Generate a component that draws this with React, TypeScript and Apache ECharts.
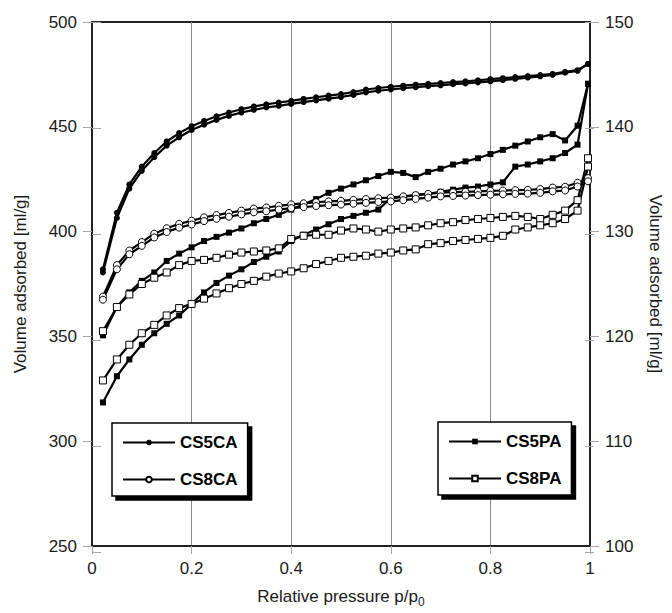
import React, { useEffect, useRef } from "react";
import * as echarts from "echarts";

// Relative pressure p/p0 of each measured point
const P = [0.022, 0.05, 0.075, 0.1, 0.125, 0.15, 0.175, 0.2, 0.225, 0.25, 0.275, 0.3, 0.325, 0.35, 0.375, 0.4, 0.425, 0.45, 0.475, 0.5, 0.525, 0.55, 0.575, 0.6, 0.625, 0.65, 0.675, 0.7, 0.725, 0.75, 0.775, 0.8, 0.825, 0.85, 0.875, 0.9, 0.925, 0.95, 0.975, 0.996];

// Left axis [ml/g]
const CS5CA_A = [382, 409, 422.5, 431, 437.5, 443, 447, 450.3, 452.8, 455, 456.8, 458.4, 459.7, 460.7, 461.6, 462.4, 463.3, 464.1, 464.9, 465.6, 466.6, 467.8, 468.5, 469.1, 469.6, 470.1, 470.5, 470.9, 471.3, 471.7, 472.2, 472.7, 473.2, 473.7, 474.2, 474.7, 475.3, 476.2, 477, 480];
const CS5CA_B = [380.5, 406.5, 420.5, 429, 435.5, 441, 445, 448.5, 451, 453.3, 455.2, 456.8, 458.1, 459.2, 460, 460.9, 461.8, 462.6, 463.4, 464.2, 465.2, 466.4, 467.2, 467.8, 468.4, 468.9, 469.4, 469.8, 470.3, 470.7, 471.2, 471.7, 472.3, 472.9, 473.5, 474.1, 474.8, 475.8, 476.7, 480];
const CS8CA_A = [369, 384, 391, 395, 399, 401.6, 403.7, 405.2, 406.8, 407.9, 408.9, 410, 411, 411.5, 412.3, 413, 413.5, 414, 414.4, 414.7, 415.1, 415.5, 415.9, 416.2, 416.8, 417.4, 418, 418.6, 418.8, 419, 419.2, 419.4, 419.6, 419.8, 419.9, 420.3, 421, 421.4, 423.3, 425.5];
const CS8CA_B = [367.5, 382, 389.2, 393.2, 397.2, 399.8, 401.9, 403.4, 405, 406.1, 407.1, 408.2, 409.2, 409.7, 410.5, 411.2, 411.7, 412.2, 412.6, 412.9, 413.3, 413.7, 414.1, 414.4, 415, 415.6, 416.2, 416.8, 417, 417.2, 417.4, 417.6, 417.8, 418, 418.1, 418.5, 419.2, 419.6, 421.5, 424];

// Right axis [ml/g]
const CS5PA_A = [120.1, 122.8, 124.2, 125.3, 126.1, 127.2, 127.9, 128.5, 129.1, 129.5, 129.9, 130.3, 130.8, 131.2, 131.6, 132.1, 132.6, 133.1, 133.7, 134.1, 134.5, 134.9, 135.3, 135.7, 135.6, 135.2, 135.7, 136.0, 136.4, 136.7, 137.0, 137.4, 137.8, 138.2, 138.6, 139.0, 139.3, 138.7, 140.1, 144.1];
const CS5PA_B = [113.7, 116.2, 117.8, 119.2, 120.3, 121.2, 122.0, 123.1, 124.2, 125.1, 125.8, 126.4, 127.1, 127.6, 128.1, 129.1, 129.7, 130.2, 130.7, 131.2, 131.5, 131.8, 132.1, 133.2, 133.3, 133.5, 133.6, 133.8, 134.0, 134.2, 134.3, 134.5, 134.7, 136.2, 136.4, 136.7, 137.0, 137.5, 138.3, 144.1];
const CS8PA_A = [120.5, 122.8, 124.0, 125.0, 125.6, 126.1, 126.8, 127.2, 127.3, 127.5, 127.8, 128.0, 128.1, 128.2, 128.4, 129.3, 129.6, 129.7, 129.7, 130.1, 130.3, 130.2, 130.0, 130.2, 130.3, 130.4, 130.6, 130.8, 130.9, 131.1, 131.2, 131.3, 131.4, 131.5, 131.4, 131.2, 131.6, 132.0, 133.0, 137.0];
const CS8PA_B = [115.8, 117.8, 119.2, 120.3, 121.1, 122.0, 122.7, 123.1, 123.6, 124.1, 124.6, 125.0, 125.3, 125.7, 126.0, 126.2, 126.5, 126.9, 127.2, 127.5, 127.6, 127.7, 127.9, 128.0, 128.2, 128.3, 128.8, 128.9, 129.1, 129.2, 129.3, 129.4, 129.6, 130.2, 130.4, 130.6, 130.8, 131.2, 132.0, 136.2];

const X_TICKS = { min: 0, max: 1, interval: 0.2 };
const LEFT_TICKS = { min: 250, max: 500, interval: 50 };
const RIGHT_TICKS = { min: 100, max: 150, interval: 10 };

const FONT = "'Liberation Sans', Arial, Helvetica, sans-serif";
const TICK_GRAY = "#a8a8a8";

const pairs = (ys: number[]) => ys.map((y, i) => [P[i], y]);

type Kind = "filledCircle" | "openCircle" | "filledSquare" | "openSquare";

function makeSeries(name: string, ys: number[], kind: Kind, yAxisIndex: number) {
  const filled = kind === "filledCircle" || kind === "filledSquare";
  const isCircle = kind === "filledCircle" || kind === "openCircle";
  return {
    type: "line",
    name,
    xAxisIndex: 0,
    yAxisIndex,
    data: pairs(ys),
    symbol: isCircle ? "circle" : "rect",
    symbolSize: isCircle ? (filled ? 6 : 7) : filled ? 6 : 7,
    showAllSymbol: true,
    lineStyle: { color: "#000", width: 2.2 },
    itemStyle: filled
      ? { color: "#000", borderColor: "#000", borderWidth: 0 }
      : { color: "#fff", borderColor: "#000", borderWidth: 1 },
    emphasis: { disabled: true },
    z: filled ? 3 : 4,
  };
}

const legendBase = {
  orient: "vertical",
  padding: [11, 10, 8, 10],
  itemWidth: 52,
  itemHeight: 7,
  itemGap: 20,
  backgroundColor: "#fff",
  borderColor: "#000",
  borderWidth: 1.5,
  borderRadius: 0,
  shadowColor: "#000",
  shadowBlur: 0,
  shadowOffsetX: 4,
  shadowOffsetY: 4,
  selectedMode: false,
  textStyle: { fontSize: 17, fontWeight: "bold", color: "#000", fontFamily: FONT },
};

export default function App() {
  const ref = useRef<HTMLDivElement>(null);

  useEffect(() => {
    if (!ref.current) return;
    const chart = echarts.init(ref.current, undefined, { renderer: "svg" });
    const tickLabel = { fontSize: 17, color: "#1a1a1a", fontFamily: FONT };
    const titleStyle = { fontSize: 17, color: "#1a1a1a", fontFamily: FONT };
    const option = {
      animation: false,
      backgroundColor: "#fff",
      grid: [
        { left: 92, right: 78, top: 22, bottom: 61, show: true, borderColor: "#222", borderWidth: 2, backgroundColor: "transparent" },
        { left: 92, right: 78, top: 22, bottom: 61, show: false },
      ],
      legend: [
        { ...legendBase, left: 112, top: 423, data: ["CS5CA", "CS8CA"] },
        { ...legendBase, left: 438, top: 422, data: ["CS5PA", "CS8PA"] },
      ],
      xAxis: [
        {
          type: "value",
          gridIndex: 0,
          ...X_TICKS,
          name: "{a|Relative pressure p/p}{b|0}",
          nameLocation: "middle",
          nameGap: 38,
          nameTextStyle: {
            rich: {
              a: { ...titleStyle, lineHeight: 24 },
              b: { fontSize: 12, color: "#1a1a1a", fontFamily: FONT, lineHeight: 12, verticalAlign: "bottom" },
            },
          },
          axisLine: { show: true, lineStyle: { color: "#222", width: 2 } },
          axisTick: { show: true, length: 8, lineStyle: { color: TICK_GRAY, width: 1 } },
          axisLabel: { ...tickLabel, margin: 14 },
          splitLine: { show: true, lineStyle: { color: "#8a8a8a", width: 1 } },
        },
        { type: "value", gridIndex: 1, ...X_TICKS, show: false },
      ],
      yAxis: [
        {
          type: "value",
          gridIndex: 0,
          position: "left",
          ...LEFT_TICKS,
          name: "Volume adsorbed [ml/g]",
          nameLocation: "middle",
          nameGap: 63,
          nameTextStyle: titleStyle,
          axisLine: { show: true, lineStyle: { color: "#222", width: 2 } },
          axisTick: { show: true, length: 9, lineStyle: { color: TICK_GRAY, width: 1 } },
          axisLabel: { ...tickLabel, margin: 15 },
          splitLine: { show: false },
        },
        {
          type: "value",
          gridIndex: 0,
          position: "right",
          ...RIGHT_TICKS,
          name: "Volume adsorbed [ml/g]",
          nameLocation: "middle",
          nameGap: 57,
          nameRotate: -90,
          nameTextStyle: titleStyle,
          axisLine: { show: true, lineStyle: { color: "#222", width: 2 } },
          axisTick: { show: true, length: 9, lineStyle: { color: TICK_GRAY, width: 1 } },
          axisLabel: { ...tickLabel, margin: 15 },
          splitLine: { show: false },
        },
        {
          type: "value",
          gridIndex: 1,
          position: "left",
          ...LEFT_TICKS,
          axisLine: { show: false },
          axisTick: { show: true, inside: true, length: 9, lineStyle: { color: TICK_GRAY, width: 1 } },
          axisLabel: { show: false },
          splitLine: { show: false },
        },
        {
          type: "value",
          gridIndex: 1,
          position: "right",
          ...RIGHT_TICKS,
          axisLine: { show: false },
          axisTick: { show: true, inside: true, length: 9, lineStyle: { color: TICK_GRAY, width: 1 } },
          axisLabel: { show: false },
          splitLine: { show: false },
        },
      ],
      series: [
        makeSeries("CS5CA", CS5CA_A, "filledCircle", 0),
        makeSeries("CS5CA", CS5CA_B, "filledCircle", 0),
        makeSeries("CS8CA", CS8CA_A, "openCircle", 0),
        makeSeries("CS8CA", CS8CA_B, "openCircle", 0),
        makeSeries("CS5PA", CS5PA_A, "filledSquare", 1),
        makeSeries("CS5PA", CS5PA_B, "filledSquare", 1),
        makeSeries("CS8PA", CS8PA_A, "openSquare", 1),
        makeSeries("CS8PA", CS8PA_B, "openSquare", 1),
      ],
    };
    chart.setOption(option as any);
    return () => chart.dispose();
  }, []);

  return (
    <div
      ref={ref}
      style={{ position: "fixed", left: 0, top: 0, width: 672, height: 613, background: "#fff" }}
    />
  );
}
